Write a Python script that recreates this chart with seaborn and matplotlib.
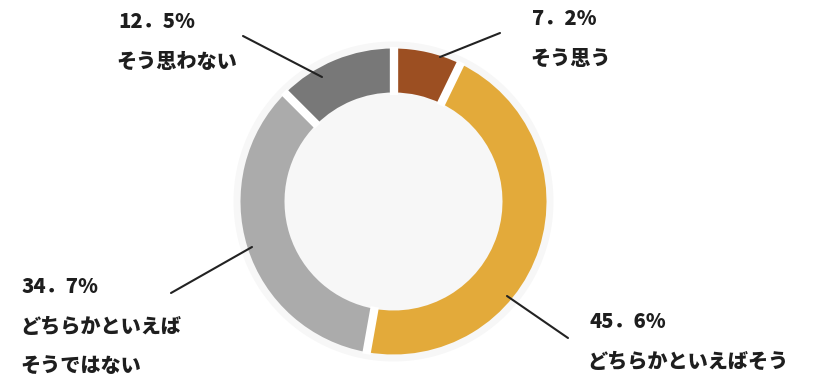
import matplotlib
matplotlib.use("Agg")
import matplotlib.pyplot as plt
import numpy as np
import seaborn as sns
from matplotlib.patches import Circle

sns.set_theme(style="white")
plt.rcParams["font.family"] = ["Noto Sans CJK JP", "DejaVu Sans"]

# Survey answers, clockwise from 12 o'clock
answers = ["そう思う", "どちらかといえばそう", "どちらかといえばそうではない", "そう思わない"]
shares = [7.2, 45.6, 34.7, 12.5]
share_labels = ["7．2%", "45．6%", "34．7%", "12．5%"]
label_lines = [["そう思う"], ["どちらかといえばそう"], ["どちらかといえば", "そうではない"], ["そう思わない"]]
colors = ["#9C4F22", "#E3AA3A", "#ABABAB", "#787878"]

W, H = 814, 378
fig = plt.figure(figsize=(W / 100, H / 100), dpi=100)
ax = fig.add_axes([0, 0, 1, 1])

cx, cy = 393.5, H - 201.5
r_out, ring = 153, 44

ax.add_patch(Circle((cx, cy), 160, facecolor="#F7F7F7", edgecolor="none", zorder=0))
wedges, _ = ax.pie(shares, colors=colors, startangle=90, counterclock=False,
                   center=(cx, cy), radius=r_out, frame=True,
                   wedgeprops=dict(width=ring, edgecolor="none"))

# white separators between the segments
bounds = 90 - 360 * np.cumsum([0] + shares[:-1]) / sum(shares)
for ang in np.radians(bounds):
    ax.plot([cx + (r_out - ring - 2) * np.cos(ang), cx + (r_out + 2) * np.cos(ang)],
            [cy + (r_out - ring - 2) * np.sin(ang), cy + (r_out + 2) * np.sin(ang)],
            color="white", lw=6, solid_capstyle="butt", zorder=3)

# label blocks: (text anchor x, first-line y, leader start, leader end) in pixels
layout = [
    (532, 19, (500, 33), (440, 57)),
    (589, 322, (568, 338), (507, 296)),
    (22, 287, (171, 293), (252, 247)),
    (118, 22, (243, 36), (322, 77)),
]
ink = "#1E1E1E"
for pct, lines, (tx, ty, p0, p1) in zip(share_labels, label_lines, layout):
    ax.text(tx, H - ty, pct, ha="left", va="center", fontsize=14.5,
            fontweight="heavy", color=ink)
    for i, line in enumerate(lines):
        ax.text(tx - 2, H - (ty + 40 + 39 * i), line, ha="left", va="center",
                fontsize=14.5, fontweight="heavy", color=ink)
    ax.plot([p0[0], p1[0]], [H - p0[1], H - p1[1]], color="#222222", lw=1.5,
            solid_capstyle="round", zorder=4)

ax.set_xlim(0, W)
ax.set_ylim(0, H)
ax.set_aspect("equal")
ax.axis("off")
fig.savefig("out.png", dpi=100, facecolor="white")
